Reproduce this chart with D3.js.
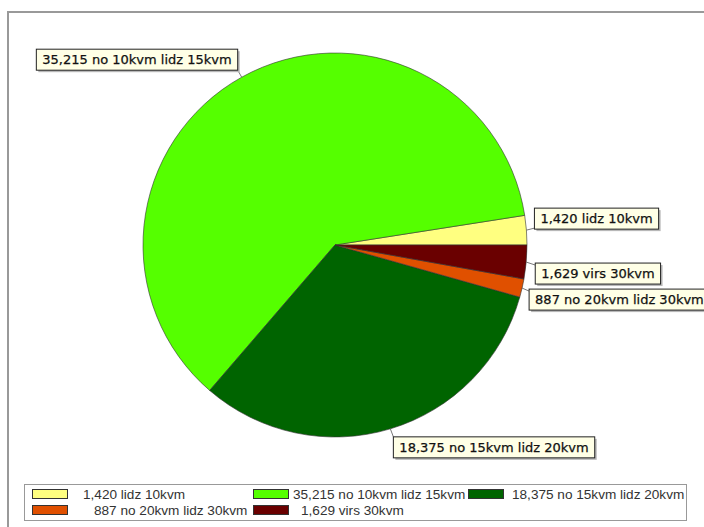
<!DOCTYPE html>
<html>
<head>
<meta charset="utf-8">
<script src="https://cdn.jsdelivr.net/npm/d3@7"></script>
<style>
  html, body { margin: 0; padding: 0; background: #fff; }
  svg { display: block; }
</style>
</head>
<body>
<script>
// ---- data ----
const categories = ["lidz 10kvm", "no 10kvm lidz 15kvm", "no 15kvm lidz 20kvm", "no 20kvm lidz 30kvm", "virs 30kvm"];
const values = [1420, 35215, 18375, 887, 1629];
const colors = ["#ffff80", "#55ff00", "#006400", "#e05000", "#6a0000"];
const fmt = d3.format(",");
const labels = values.map((v, i) => fmt(v) + " " + categories[i]);

const W = 704, H = 527;
const svg = d3.select("body").append("svg").attr("width", W).attr("height", H);

// outer frame
svg.append("rect").attr("x", 8).attr("y", 12).attr("width", W + 20).attr("height", H + 20)
  .attr("fill", "none").attr("stroke", "#999").attr("stroke-width", 2);

const cx = 335, cy = 245, r = 192;
const g = svg.append("g").attr("transform", `translate(${cx},${cy})`);

const pie = d3.pie().sort(null).value(d => d)
  .startAngle(Math.PI / 2).endAngle(Math.PI / 2 - 2 * Math.PI);
const arcs = pie(values);
const arc = d3.arc().innerRadius(0).outerRadius(r);
const edge = d3.arc().innerRadius(r).outerRadius(r);

g.selectAll("path.slice").data(arcs).enter().append("path")
  .attr("class", "slice")
  .attr("d", arc)
  .attr("fill", (d, i) => colors[i])
  .attr("stroke", "#333")
  .attr("stroke-width", 0.6);

// labels with leader lines
const labelFont = "13px 'DejaVu Sans', Tahoma, sans-serif";
const ctx = document.createElement("canvas").getContext("2d");
ctx.font = labelFont;
const boxH = 21, padX = 6;
function place(i, px, py, w) {
  switch (i) {
    case 0: return { x: px + 8, y: py - boxH - 1, lx: px + 8, ly: py - 2 };
    case 1: return { x: px - 4 - w, y: py - 7 - boxH, lx: px - 4, ly: py - 7 };
    case 2: return { x: px + 3, y: py + 8, lx: px + 3, ly: py + 8 };
    case 3: return { x: px + 7, y: py + 1, lx: px + 7, ly: py + 3 };
    default: return { x: px + 9, y: py + 1, lx: px + 9, ly: py + 3 };
  }
}
arcs.forEach((d, i) => {
  const [ex, ey] = edge.centroid(d);
  const px = cx + ex, py = cy + ey;
  const tw = ctx.measureText(labels[i]).width;
  const w = tw + padX * 2;
  const p = place(i, px, py, w);
  svg.append("line").attr("x1", px).attr("y1", py).attr("x2", p.lx).attr("y2", p.ly)
    .attr("stroke", "#555").attr("stroke-width", 0.8);
  svg.append("rect").attr("x", p.x + 2).attr("y", p.y + 2).attr("width", w).attr("height", boxH)
    .attr("fill", "#b8b8b8");
  svg.append("rect").attr("x", p.x).attr("y", p.y).attr("width", w).attr("height", boxH)
    .attr("fill", "#ffffe6").attr("stroke", "#222").attr("stroke-width", 1);
  svg.append("text").attr("x", p.x + padX).attr("y", p.y + 15)
    .style("font", labelFont).attr("fill", "#111")
    .attr("stroke", "#111").attr("stroke-width", 0.25)
    .text(labels[i]);
});

// legend
const lg = svg.append("g");
lg.append("rect").attr("x", 24.5).attr("y", 484.5).attr("width", 662).attr("height", 36)
  .attr("fill", "#fff").attr("stroke", "#999").attr("stroke-width", 1);
const swX = [32, 253, 468];
const txX = [83, 293, 512, 94, 301];
const rowY = [489, 505];
labels.forEach((t, i) => {
  const col = i % 3, row = Math.floor(i / 3);
  lg.append("rect").attr("x", swX[col] + 0.5).attr("y", rowY[row] + 0.5).attr("width", 35).attr("height", 9)
    .attr("fill", colors[i]).attr("stroke", "#333").attr("stroke-width", 1);
  lg.append("text").attr("x", txX[i]).attr("y", rowY[row] + 9.5)
    .style("font", "13.6px 'Liberation Sans', Arial, sans-serif").attr("fill", "#333")
    .text(t);
});
</script>
</body>
</html>
